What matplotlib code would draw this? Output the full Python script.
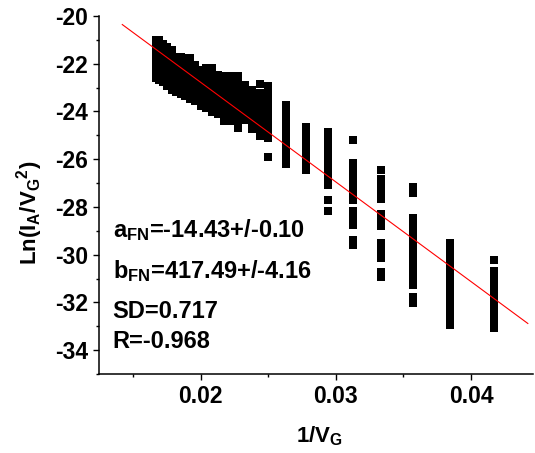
import matplotlib
matplotlib.use("Agg")
import matplotlib.pyplot as plt

# Fowler-Nordheim plot: Ln(I_A/V_G^2) against 1/V_G
plt.rcParams['font.family'] = ['Liberation Sans', 'DejaVu Sans']
plt.rcParams['font.weight'] = 'bold'
plt.rcParams['axes.unicode_minus'] = False
plt.rcParams['mathtext.fontset'] = 'custom'
plt.rcParams['mathtext.rm'] = 'Liberation Sans:bold'
plt.rcParams['mathtext.it'] = 'Liberation Sans:bold'
plt.rcParams['mathtext.bf'] = 'Liberation Sans:bold'

# gate voltages and the measured Ln(I_A/V_G^2) at each one
gate_voltages = [60, 59, 58, 57, 56, 55, 54, 53, 52, 51, 50, 49, 48, 47, 46, 45,
                 44, 43, 42, 41, 40, 38, 36, 34, 32, 30, 28, 26, 24]
ln_values = [
    [-21.00, -21.25, -21.50, -21.75, -21.93, -22.22, -22.42, -22.60],
    [-21.00, -21.25, -21.50, -21.75, -22.00, -22.25, -22.50, -22.70],
    [-21.17, -21.40, -21.65, -21.90, -22.15, -22.40, -22.60, -22.77],
    [-21.32, -21.55, -21.80, -22.05, -22.30, -22.55, -22.75, -22.92],
    [-21.43, -21.65, -21.90, -22.15, -22.40, -22.65, -22.90, -23.10],
    [-21.72, -21.95, -22.20, -22.45, -22.70, -22.95, -23.19],
    [-21.72, -21.95, -22.20, -22.45, -22.70, -22.95, -23.15, -23.27],
    [-21.78, -22.00, -22.25, -22.50, -22.75, -23.00, -23.20, -23.37],
    [-21.78, -22.05, -22.30, -22.55, -22.80, -23.05, -23.30, -23.48],
    [-22.05, -22.30, -22.55, -22.80, -23.05, -23.30, -23.58],
    [-22.26, -22.50, -22.75, -23.00, -23.25, -23.50, -23.79],
    [-22.18, -22.40, -22.65, -22.90, -23.15, -23.40, -23.65, -23.86],
    [-22.18, -22.45, -22.70, -22.95, -23.20, -23.45, -23.75, -24.02],
    [-22.47, -22.70, -22.95, -23.20, -23.45, -23.70, -23.90, -24.09],
    [-22.51, -22.75, -23.00, -23.25, -23.50, -23.75, -24.00, -24.20, -24.38],
    [-22.51, -22.75, -23.00, -23.25, -23.50, -23.75, -24.00, -24.20, -24.42],
    [-22.51, -22.75, -23.00, -23.25, -23.50, -23.75, -24.00, -24.25, -24.50, -24.69],
    [-22.89, -23.15, -23.40, -23.65, -23.90, -24.15, -24.36],
    [-23.12, -23.35, -23.60, -23.85, -24.10, -24.35, -24.55, -24.74],
    [-22.84, -23.23, -23.45, -23.70, -23.95, -24.20, -24.45, -24.70, -24.90, -25.02],
    [-22.93, -23.15, -23.40, -23.65, -23.90, -24.15, -24.40, -24.65, -24.90, -25.11, -25.91],
    [-23.73, -23.98, -24.23, -24.48, -24.73, -24.98, -25.23, -25.48, -25.73, -25.98, -26.20],
    [-24.67, -24.92, -25.17, -25.42, -25.67, -25.92, -26.17, -26.45],
    [-24.86, -25.20, -25.45, -25.70, -25.95, -26.20, -26.45, -26.70, -26.90, -27.07,
     -27.71, -28.17],
    [-25.21, -26.15, -26.40, -26.65, -26.90, -27.15, -27.40, -27.70, -28.16, -28.40,
     -28.60, -28.75, -29.40, -29.59],
    [-26.44, -26.81, -27.05, -27.30, -27.50, -27.68, -28.28, -28.55, -28.82, -29.50,
     -29.75, -30.00, -30.14, -30.72, -30.92],
    [-27.17, -27.42, -28.45, -28.70, -28.95, -29.20, -29.45, -29.70, -29.95, -30.20,
     -30.45, -30.70, -30.95, -31.27, -31.77, -32.01],
    [-29.51, -29.76, -30.01, -30.26, -30.51, -30.76, -31.01, -31.26, -31.51, -31.76,
     -32.01, -32.26, -32.51, -32.76, -32.95],
    [-30.21, -30.70, -30.95, -31.20, -31.45, -31.70, -31.95, -32.20, -32.45, -32.70,
     -32.90, -33.08],
]

# linear fit results
a_fn = -14.43
b_fn = 417.49
fit_x = [0.0142, 0.0442]
fit_labels = [r'a$_{\mathrm{FN}}$=-14.43+/-0.10',
              r'b$_{\mathrm{FN}}$=417.49+/-4.16',
              'SD=0.717',
              'R=-0.968']

x_ticks = [0.02, 0.03, 0.04]
x_tick_labels = ['0.02', '0.03', '0.04']
y_ticks = [-20, -22, -24, -26, -28, -30, -32, -34]

fig = plt.figure(figsize=(5.35, 4.53), dpi=100)
ax = fig.add_axes([0.1856, 0.1744, 0.8106, 0.7903])

# one column of points per gate voltage
for v, ys in zip(gate_voltages, ln_values):
    ax.scatter([1.0 / v] * len(ys), ys, marker='s', s=31, c='black',
               linewidths=0, zorder=2)

fit_y = [a_fn - b_fn * x for x in fit_x]
ax.plot(fit_x, fit_y, color='red', linewidth=0.8, zorder=3)

ax.set_xlim(0.0125, 0.04458)
ax.set_ylim(-35, -20)
ax.set_xticks(x_ticks, x_tick_labels)
ax.set_xticks([0.015, 0.025, 0.035], minor=True)
ax.set_yticks(y_ticks, [str(t) for t in y_ticks])
ax.set_yticks([-21, -23, -25, -27, -29, -31, -33, -35], minor=True)

ax.spines['top'].set_visible(False)
ax.spines['right'].set_visible(False)
for side in ['left', 'bottom']:
    ax.spines[side].set_linewidth(1.1)
ax.tick_params(which='major', direction='out', length=4.5, width=1.0,
               labelsize=16.5, pad=3.5)
ax.tick_params(which='minor', direction='out', length=2.5, width=1.0)
for lbl in ax.get_xticklabels() + ax.get_yticklabels():
    lbl.set_fontweight('bold')

ax.set_xlabel(r'1/V$_{\mathrm{G}}$', fontsize=16, fontweight='bold')
ax.xaxis.set_label_coords(0.507, -0.19)
ax.xaxis.label.set_va('baseline')
ax.set_ylabel(r'Ln(I$_{\mathrm{A}}$/V$_{\mathrm{G}}{}^{2}$)', fontsize=16,
              fontweight='bold')
ax.yaxis.set_label_coords(-0.16, 0.45)
ax.yaxis.label.set_va('center')

# fit parameters written inside the plot
baselines = [237.3, 278.3, 317.7, 348.3]
for text, base in zip(fit_labels, baselines):
    fig.text(112.6 / 535, 1 - base / 453, text, fontsize=17,
             fontweight='bold', va='baseline', ha='left')

fig.savefig('out.png', dpi=100)
